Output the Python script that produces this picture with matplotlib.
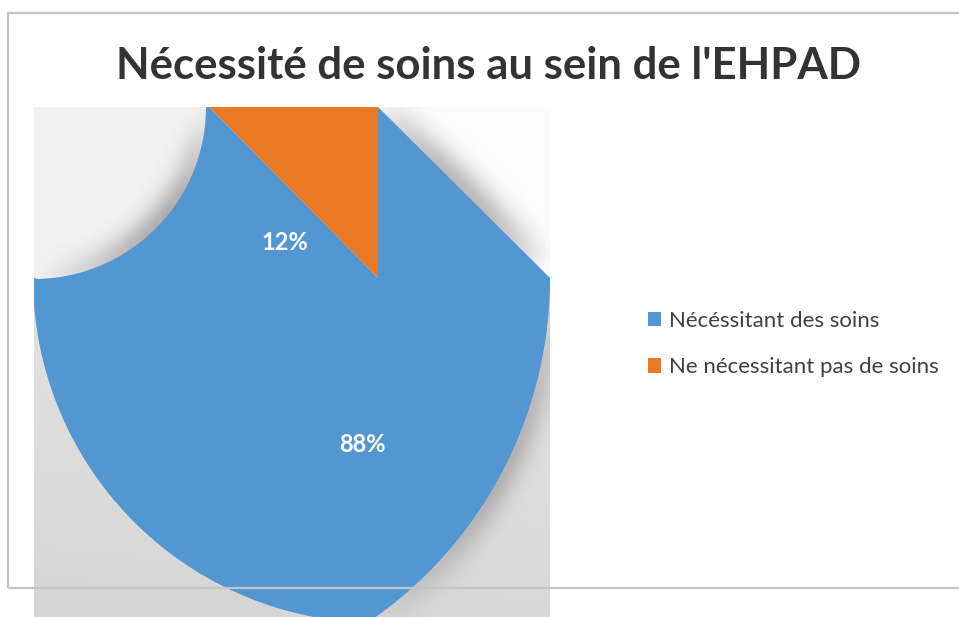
import numpy as np
import matplotlib.pyplot as plt
from matplotlib.patches import Rectangle, Polygon, Patch
from matplotlib.path import Path

plt.rcParams['font.family'] = ['Lato', 'DejaVu Sans']

labels = ["Nécéssitant des soins", "Ne nécessitant pas de soins"]
values = [87.6, 12.4]
colors = ["#5297d1", "#eb7a26"]
title = "Nécessité de soins au sein de l'EHPAD"

W, H = 959, 617
fig = plt.figure(figsize=(W / 100, H / 100), dpi=100)
ax = fig.add_axes([0, 0, 1, 1])


def to_data(p):
    # pixel coords (x, row) -> data coords
    p = np.asarray(p, dtype=float)
    return np.column_stack([p[:, 0], H - p[:, 1]])


# plot area (gray backdrop), pixel coords
x0, x1, ytop, ybot = 34, 550, 107, 617
cx, cy = 378, 278
ext = (x0, x1, H - ybot, H - ytop)

# chart border
ax.add_patch(Rectangle((8, H - 588), 960, 588 - 13, fill=False,
                       edgecolor="#c4c4c4", lw=1.6, zorder=10))

# backdrop gradient (light grey, darker towards the bottom)
g = np.linspace(0.925, 0.845, 200)
gx = np.linspace(0.99, 1.0, 50)
img = g[:, None, None] * gx[None, :, None] * np.ones((1, 1, 3))
ax.imshow(img, extent=ext, aspect="auto", zorder=1, origin="upper", interpolation="bilinear")

# curled corners
rq = 172
t = np.linspace(0, np.pi / 2, 80)
left_arc = np.column_stack([x0 + rq * np.cos(t), ytop + rq * np.sin(t)])  # from top end to left end
ax.add_patch(Polygon(to_data(np.vstack([[x0, ytop], left_arc])), closed=True,
                     facecolor="#f1f1f1", edgecolor="none", zorder=2))
ax.add_patch(Polygon(to_data([[cx, ytop], [x1, ytop], [x1, cy]]), closed=True,
                     facecolor="#fcfcfc", edgecolor="none", zorder=2))

# outline of the visible pie
rr, ccx = 417, 133
ta = np.linspace(0, np.arcsin((ybot - cy) / rr), 80)
right_arc = np.column_stack([ccx + rr * np.cos(ta), cy + rr * np.sin(ta)])
s = np.linspace(0, 1, 80)
diag = np.column_stack([cx + s * (x1 - cx), ytop + s * (cy - ytop)])
outline = np.vstack([[[x0 + rq, ytop]], diag, right_arc, [[x0, ybot], [x0, cy]], left_arc[::-1][1:]])
clip_path = Path(to_data(outline), closed=True)

# soft shadows along the curled edges, as an image
gxs, gys = np.meshgrid(np.arange(x0, x1) + 0.5, np.arange(ytop, ybot) + 0.5)
keep = np.ones_like(gxs)


def shadow(pts, prof, strength, sigma):
    d2 = (gxs[..., None] - pts[:, 0]) ** 2 + (gys[..., None] - pts[:, 1]) ** 2
    k = d2.argmin(axis=-1)
    d = np.sqrt(d2.min(axis=-1))
    return strength * prof[k] * np.exp(-(d / sigma) ** 2)


u = np.linspace(0, 1, 80)
for pts, prof, st, sg in [
        (left_arc, np.sin(np.pi * u) ** 1.2 * (1.2 - 0.5 * u), 0.5, 18),
        (diag, np.sin(np.pi * np.clip(u * 1.05, 0, 1)) ** 0.7, 0.45, 20),
        (right_arc, np.sin(np.pi * u) ** 0.8, 0.36, 17)]:
    keep *= 1 - np.clip(shadow(pts, prof, st, sg), 0, 1)

shade = np.zeros(gxs.shape + (4,))
shade[..., :3] = (0.42, 0.39, 0.41)
shade[..., 3] = 1 - keep
ax.imshow(shade, extent=ext, aspect="auto", zorder=3, origin="upper", interpolation="bilinear")

wedges, texts, autotexts = ax.pie(values, colors=colors, startangle=90, counterclock=False,
                                  center=(cx, H - cy), radius=345, autopct="%1.0f%%",
                                  textprops=dict(color="white", fontsize=17, fontweight="bold"))
for w in wedges:
    w.set_zorder(5)
    w.set_clip_on(True)
    w.set_clip_path(clip_path, ax.transData)
for t_, (lx, ly) in zip(autotexts, [(362, 444), (285, 243)]):
    t_.set_position((lx, H - ly))
    t_.set_zorder(6)

ax.set_xlim(0, W)
ax.set_ylim(0, H)
ax.set_aspect("auto")
ax.axis("off")

fig.text(488 / W, 1 - 66 / H, title, ha="center", va="center", fontsize=31.5,
         fontweight="bold", color="#333333")

handles = [Patch(facecolor=c, edgecolor="none") for c in colors]
fig.legend(handles, labels, loc="center left", bbox_to_anchor=(628 / W, 1 - 344 / H),
           frameon=False, fontsize=16, labelcolor="#404040", handlelength=0.6,
           handleheight=0.6, handletextpad=0.35, labelspacing=1.2)

fig.savefig("out.png", dpi=100)
